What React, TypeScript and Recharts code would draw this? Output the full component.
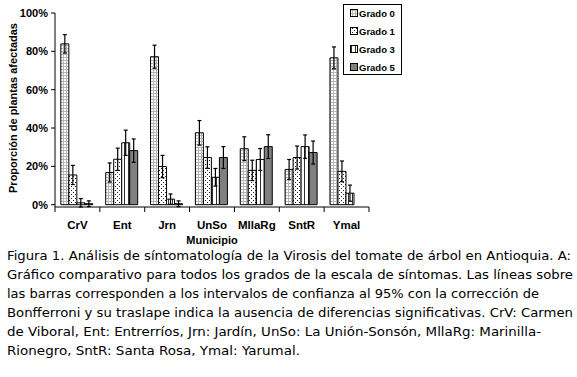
import React from 'react';
import { BarChart, Bar, XAxis, YAxis, ErrorBar } from 'recharts';

const municipios = ['CrV', 'Ent', 'Jrn', 'UnSo', 'MllaRg', 'SntR', 'Ymal'];
const grado0 = [83.9, 16.8, 77.2, 37.5, 29.2, 18.4, 76.6];
const grado1 = [15.5, 23.7, 19.9, 24.6, 17.9, 24.6, 17.4];
const grado3 = [1.0, 32.3, 2.9, 14.3, 23.6, 30.3, 6.0];
const grado5 = [0.5, 28.2, 0.5, 24.6, 30.3, 27.2, null];
const err0 = [4.8, 5.0, 6.0, 6.4, 6.2, 5.2, 5.7];
const err1 = [5.0, 5.8, 5.8, 5.6, 5.3, 6.0, 5.4];
const err3 = [2.2, 6.6, 2.7, 4.6, 5.7, 6.1, 4.2];
const err5 = [1.5, 6.1, 1.5, 5.7, 6.2, 6.0, null];
const yTicks = [0, 20, 40, 60, 80, 100];
const seriesNames = ['Grado 0', 'Grado 1', 'Grado 3', 'Grado 5'];
const seriesFills = ['url(#pG0)', 'url(#pG1)', 'url(#pG3)', '#808080'];

const captionLines = [
  'Figura 1. Análisis de síntomatología de la Virosis del tomate de árbol en Antioquia. A:',
  'Gráfico comparativo para todos los grados de la escala de síntomas. Las líneas sobre',
  'las barras corresponden a los intervalos de confianza al 95% con la corrección de',
  'Bonfferroni y su traslape indica la ausencia de diferencias significativas. CrV: Carmen',
  'de Viboral, Ent: Entrerríos, Jrn: Jardín, UnSo: La Unión-Sonsón, MllaRg: Marinilla-',
  'Rionegro, SntR: Santa Rosa, Ymal: Yarumal.',
];
const captionWidths = [564, 566, 532, 566, 534, 293];

const data = municipios.map((m, i) => ({
  name: m,
  g0: grado0[i], g1: grado1[i], g3: grado3[i], g5: grado5[i],
  e0: err0[i], e1: err1[i], e3: err3[i], e5: err5[i],
}));

const boldFont = '"Liberation Sans", Arial, sans-serif';
const X_TICK_SIZE = 6;
const X_TICK_MARGIN = 8;

const Patterns = () => (
  <defs>
    <pattern id="pG0" patternUnits="userSpaceOnUse" width={3} height={3}>
      <rect x={0} y={0} width={3} height={3} fill="#ffffff" />
      <rect x={0} y={0} width={3} height={1} fill="#b4b4b4" />
      <rect x={0} y={0} width={1} height={3} fill="#b4b4b4" />
    </pattern>
    <pattern id="pG1" patternUnits="userSpaceOnUse" width={4} height={4}>
      <rect x={0} y={0} width={4} height={4} fill="#ffffff" />
      <rect x={1} y={0} width={1} height={1} fill="#222" />
      <rect x={3} y={2} width={1} height={1} fill="#222" />
    </pattern>
    <pattern id="pG3" patternUnits="userSpaceOnUse" width={4} height={4}>
      <rect x={0} y={0} width={4} height={4} fill="#ffffff" />
      <rect x={0} y={0} width={1} height={4} fill="#303030" />
    </pattern>
  </defs>
);

const CategoryTick = (props: any) => {
  const { x, y, payload, index } = props;
  const off = payload && typeof payload.offset === 'number' ? payload.offset : 0;
  const axisY = y - X_TICK_SIZE - X_TICK_MARGIN;
  const last = index === municipios.length - 1;
  return (
    <g>
      <line x1={x - off} y1={axisY} x2={x - off} y2={axisY + 5} stroke="#000" />
      {last && <line x1={x + off} y1={axisY} x2={x + off} y2={axisY + 5} stroke="#000" />}
      <text
        x={x}
        y={y}
        dy="0.71em"
        textAnchor="middle"
        fill="#000"
        fontFamily={boldFont}
        fontWeight="bold"
        fontSize={11.5}
      >
        {payload.value}
      </text>
    </g>
  );
};

export default function App() {
  return (
    <div style={{ position: 'absolute', left: 0, top: 0, width: 577, height: 377, background: '#fff' }}>
      <BarChart
        width={577}
        height={377}
        data={data}
        margin={{ top: 13, right: 208, bottom: 140, left: 10 }}
        barCategoryGap="13%"
        barGap={0}
      >
        <Patterns />
        <XAxis
          dataKey="name"
          height={30}
          axisLine={{ stroke: '#000' }}
          tickLine={false}
          tickSize={X_TICK_SIZE}
          tickMargin={X_TICK_MARGIN}
          interval={0}
          tick={<CategoryTick />}
        />
        <YAxis
          width={45}
          domain={[0, 100]}
          ticks={yTicks}
          tickFormatter={(v: number) => `${v}%`}
          axisLine={{ stroke: '#000' }}
          tickLine={{ stroke: '#000' }}
          tickSize={4}
          tickMargin={3}
          tick={{ fill: '#000', fontFamily: boldFont, fontWeight: 'bold', fontSize: 11 }}
        />
        <Bar dataKey="g0" name="Grado 0" fill="url(#pG0)" stroke="#000" strokeWidth={1} isAnimationActive={false}>
          <ErrorBar dataKey="e0" width={2} stroke="#000" strokeWidth={1.2} />
        </Bar>
        <Bar dataKey="g1" name="Grado 1" fill="url(#pG1)" stroke="#000" strokeWidth={1} isAnimationActive={false}>
          <ErrorBar dataKey="e1" width={2} stroke="#000" strokeWidth={1.2} />
        </Bar>
        <Bar dataKey="g3" name="Grado 3" fill="url(#pG3)" stroke="#000" strokeWidth={1} isAnimationActive={false}>
          <ErrorBar dataKey="e3" width={2} stroke="#000" strokeWidth={1.2} />
        </Bar>
        <Bar dataKey="g5" name="Grado 5" fill="#808080" stroke="#000" strokeWidth={1} isAnimationActive={false}>
          <ErrorBar dataKey="e5" width={2} stroke="#000" strokeWidth={1.2} />
        </Bar>
      </BarChart>
      <svg width={577} height={377} style={{ position: 'absolute', left: 0, top: 0, pointerEvents: 'none' }}>
        <Patterns />
        <g transform="translate(343,4)">
          <rect x={0.5} y={0.5} width={58} height={70} fill="#fff" stroke="#000" strokeWidth={1} />
          {seriesNames.map((n, i) => (
            <g key={n}>
              <rect x={7.5} y={5.5 + i * 18} width={7} height={7} fill={seriesFills[i]} stroke="#000" strokeWidth={1} />
              <text x={16} y={12.5 + i * 18} fontFamily={boldFont} fontWeight="bold" fontSize={9.5} fill="#000">{n}</text>
            </g>
          ))}
        </g>
        <text
          x={0}
          y={0}
          transform="translate(17,108) rotate(-90)"
          textAnchor="middle"
          fontFamily={boldFont}
          fontWeight="bold"
          fontSize={11}
          fill="#000"
        >
          Proporción de plantas afectadas
        </text>
        <text x={212} y={244} textAnchor="middle" fontFamily={boldFont} fontWeight="bold" fontSize={11} fill="#000">
          Municipio
        </text>
        {captionLines.map((line, i) => (
          <text
            key={i}
            x={7}
            y={260 + i * 19}
            fontFamily='"DejaVu Sans", Verdana, sans-serif'
            fontSize={12}
            fill="#000"
            textLength={captionWidths[i]}
            lengthAdjust="spacingAndGlyphs"
          >
            {line}
          </text>
        ))}
      </svg>
    </div>
  );
}
